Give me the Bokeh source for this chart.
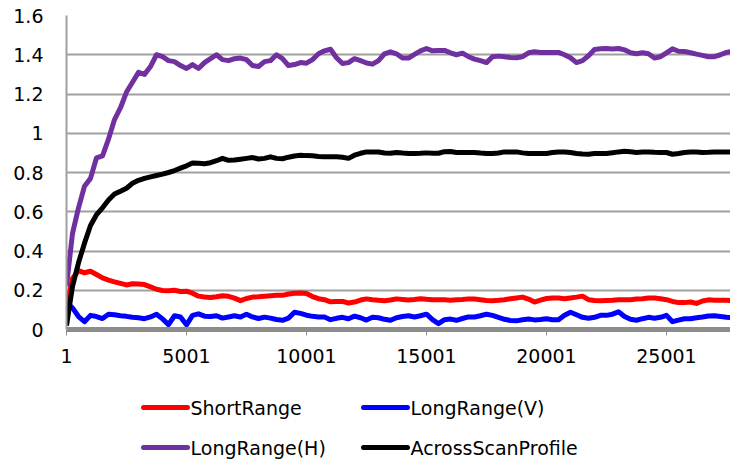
from bokeh.plotting import figure
from bokeh.layouts import column
from bokeh.models import Range1d, FixedTicker
from bokeh.core.properties import value
from bokeh.embed import file_html
from bokeh.resources import INLINE

# Sample index (every 250th record)
SAMPLE_STEP = 250
sample = [1 + SAMPLE_STEP * k for k in range(112)]

short_range = [
    0.12, 0.26, 0.30, 0.289, 0.297, 0.28, 0.263, 0.252,
    0.243, 0.235, 0.227, 0.233, 0.232, 0.229, 0.217, 0.205,
    0.199, 0.197, 0.20, 0.194, 0.195, 0.185, 0.17, 0.166,
    0.163, 0.167, 0.172, 0.169, 0.16, 0.147, 0.158, 0.165,
    0.167, 0.17, 0.172, 0.174, 0.174, 0.181, 0.185, 0.186,
    0.183, 0.168, 0.157, 0.152, 0.141, 0.143, 0.143, 0.135,
    0.14, 0.15, 0.156, 0.152, 0.149, 0.147, 0.15, 0.156,
    0.153, 0.15, 0.153, 0.157, 0.154, 0.152, 0.152, 0.151,
    0.149, 0.151, 0.153, 0.156, 0.155, 0.152, 0.148, 0.147,
    0.149, 0.152, 0.157, 0.161, 0.165, 0.155, 0.14, 0.15,
    0.158, 0.161, 0.16, 0.157, 0.161, 0.165, 0.17, 0.152,
    0.148, 0.146, 0.148, 0.149, 0.151, 0.152, 0.152, 0.155,
    0.157, 0.161, 0.161, 0.157, 0.152, 0.143, 0.137, 0.137,
    0.14, 0.133, 0.145, 0.151, 0.149, 0.149, 0.149, 0.146,
]

long_range_v = [
    0.14, 0.11, 0.066, 0.04, 0.072, 0.066, 0.056, 0.078,
    0.075, 0.07, 0.067, 0.062, 0.06, 0.055, 0.064, 0.078,
    0.054, 0.025, 0.07, 0.064, 0.024, 0.072, 0.08, 0.068,
    0.066, 0.07, 0.058, 0.064, 0.07, 0.064, 0.078, 0.064,
    0.056, 0.063, 0.058, 0.051, 0.047, 0.058, 0.088, 0.082,
    0.073, 0.067, 0.064, 0.064, 0.05, 0.057, 0.062, 0.055,
    0.068, 0.06, 0.048, 0.062, 0.06, 0.052, 0.047, 0.06,
    0.066, 0.07, 0.064, 0.07, 0.078, 0.05, 0.03, 0.05,
    0.053, 0.047, 0.056, 0.064, 0.064, 0.07, 0.078, 0.072,
    0.062, 0.052, 0.046, 0.044, 0.05, 0.053, 0.049, 0.051,
    0.055, 0.05, 0.05, 0.073, 0.088, 0.075, 0.062, 0.057,
    0.062, 0.072, 0.072, 0.078, 0.09, 0.066, 0.052, 0.047,
    0.055, 0.062, 0.057, 0.062, 0.072, 0.04, 0.048, 0.055,
    0.055, 0.06, 0.064, 0.069, 0.07, 0.066, 0.062, 0.06,
]

long_range_h = [
    0.22, 0.49, 0.62, 0.73, 0.77, 0.875, 0.885, 0.97,
    1.07, 1.13, 1.21, 1.26, 1.31, 1.30, 1.34, 1.40,
    1.39, 1.37, 1.365, 1.345, 1.33, 1.35, 1.33, 1.36,
    1.38, 1.40, 1.375, 1.37, 1.38, 1.383, 1.375, 1.345,
    1.34, 1.365, 1.37, 1.40, 1.38, 1.345, 1.35, 1.36,
    1.357, 1.375, 1.405, 1.42, 1.428, 1.385, 1.355, 1.36,
    1.38, 1.37, 1.358, 1.352, 1.37, 1.405, 1.415, 1.405,
    1.383, 1.383, 1.402, 1.42, 1.432, 1.42, 1.422, 1.422,
    1.41, 1.40, 1.408, 1.39, 1.378, 1.37, 1.36, 1.39,
    1.393, 1.39, 1.386, 1.385, 1.39, 1.41, 1.415, 1.412,
    1.412, 1.412, 1.412, 1.40, 1.385, 1.36, 1.37, 1.395,
    1.427, 1.43, 1.432, 1.429, 1.432, 1.425, 1.41, 1.405,
    1.41, 1.405, 1.383, 1.39, 1.41, 1.43, 1.418, 1.417,
    1.41, 1.403, 1.397, 1.39, 1.39, 1.40, 1.412, 1.417,
]

across_scan_profile = [
    0.02, 0.22, 0.34, 0.44, 0.53, 0.585, 0.62, 0.66,
    0.69, 0.705, 0.72, 0.745, 0.76, 0.77, 0.778, 0.785,
    0.792, 0.80, 0.81, 0.822, 0.834, 0.848, 0.847, 0.845,
    0.85, 0.86, 0.872, 0.862, 0.864, 0.868, 0.872, 0.876,
    0.869, 0.872, 0.88, 0.872, 0.87, 0.878, 0.884, 0.888,
    0.886, 0.885, 0.882, 0.88, 0.88, 0.88, 0.878, 0.872,
    0.888, 0.898, 0.905, 0.905, 0.904, 0.899, 0.898, 0.902,
    0.899, 0.897, 0.897, 0.898, 0.90, 0.898, 0.898, 0.906,
    0.907, 0.902, 0.902, 0.902, 0.902, 0.899, 0.897, 0.897,
    0.899, 0.905, 0.905, 0.905, 0.90, 0.897, 0.897, 0.897,
    0.897, 0.902, 0.905, 0.905, 0.902, 0.897, 0.894, 0.893,
    0.897, 0.897, 0.897, 0.901, 0.905, 0.908, 0.906, 0.902,
    0.904, 0.905, 0.903, 0.902, 0.902, 0.893, 0.897, 0.902,
    0.904, 0.904, 0.902, 0.903, 0.905, 0.905, 0.905, 0.905,
]

series_names = ["ShortRange", "LongRange(V)", "LongRange(H)", "AcrossScanProfile"]
series_colors = ["#ff0000", "#0000ff", "#7030a0", "#000000"]
series_values = [short_range, long_range_v, long_range_h, across_scan_profile]

x_ticks = [1, 5001, 10001, 15001, 20001, 25001]
y_ticks = [0, 0.2, 0.4, 0.6, 0.8, 1, 1.2, 1.4, 1.6]
y_tick_labels = ["0", "0.2", "0.4", "0.6", "0.8", "1", "1.2", "1.4", "1.6"]

FONT = "DejaVu Sans"
GRID = "#a0a0a0"
LINE_W = 5

# ---- main chart -------------------------------------------------------------
p = figure(
    width=730, height=380,
    x_range=Range1d(1, 27668), y_range=Range1d(0, 1.6),
    output_backend="svg", toolbar_location=None,
    min_border_left=66, min_border_right=0,
    min_border_top=15, min_border_bottom=51,
)
p.outline_line_color = None
p.background_fill_color = "white"
p.border_fill_color = "white"

p.xgrid.visible = False
p.ygrid.ticker = FixedTicker(ticks=y_ticks)
p.ygrid.grid_line_color = GRID
p.ygrid.grid_line_width = 2

xa = p.xaxis[0]
xa.ticker = FixedTicker(ticks=x_ticks)
xa.major_label_overrides = {t: str(t) for t in x_ticks}
xa.axis_line_color = "#8c8c8c"
xa.axis_line_width = 5
xa.major_tick_line_color = "#8c8c8c"
xa.major_tick_out = 6
xa.major_tick_in = 0
xa.minor_tick_line_color = None
xa.major_label_standoff = 13
xa.major_label_text_font = FONT
xa.major_label_text_font_size = "19px"
xa.major_label_text_color = "black"

ya = p.yaxis[0]
ya.ticker = FixedTicker(ticks=y_ticks)
ya.major_label_overrides = dict(zip(y_ticks, y_tick_labels))
ya.axis_line_color = GRID
ya.axis_line_width = 2
ya.major_tick_line_color = None
ya.minor_tick_line_color = None
ya.major_tick_out = 0
ya.major_tick_in = 0
ya.major_label_standoff = 23
ya.major_label_text_font = FONT
ya.major_label_text_font_size = "19px"
ya.major_label_text_color = "black"

for vals, col in zip(series_values, series_colors):
    p.line(sample, vals, line_color=col, line_width=LINE_W, line_join="round")

# ---- legend strip (2 x 2 grid) ------------------------------------------
# The column layout lines this strip's frame up with the chart frame
# (page x 66..730), so its x range is expressed in page pixels.
leg = figure(
    width=730, height=82,
    x_range=Range1d(66, 730), y_range=Range1d(82, 0),
    output_backend="svg", toolbar_location=None,
    x_axis_type=None, y_axis_type=None,
    min_border=0,
)
leg.outline_line_color = None
leg.grid.visible = False
leg.background_fill_color = "white"
leg.border_fill_color = "white"

col_x = [143, 363]      # left end of each column's swatch
row_y = [27, 67]        # vertical centre of each row
swatch_len = 44
# series laid out row by row: ShortRange, LongRange(V) / LongRange(H), AcrossScanProfile
sx0, sx1, sy, tx, ty, tl = [], [], [], [], [], []
for i, name in enumerate(series_names):
    cx = col_x[i % 2]
    cy = row_y[i // 2]
    sx0.append(cx)
    sx1.append(cx + swatch_len)
    sy.append(cy)
    tx.append(cx + swatch_len + 3)
    ty.append(cy)
    tl.append(name)

leg.segment(x0=sx0, y0=sy, x1=sx1, y1=sy, line_color=series_colors,
            line_width=LINE_W, line_cap="round")
leg.text(x=tx, y=ty, text=tl, text_font=value(FONT), text_font_size="19px",
         text_color="black", text_align="left", text_baseline="middle")

layout = column(p, leg, spacing=0)
open("out.html", "w").write(file_html(layout, INLINE))
